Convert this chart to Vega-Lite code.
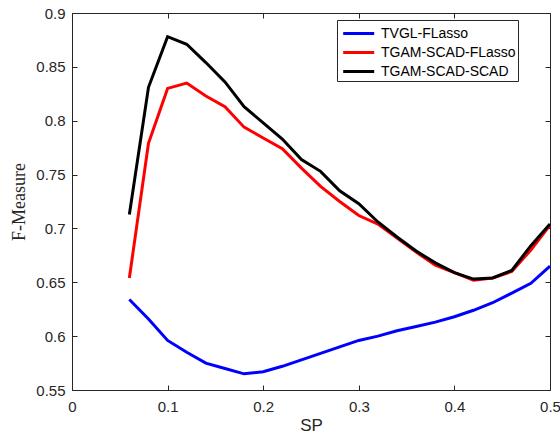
{
  "$schema": "https://vega.github.io/schema/vega-lite/v6.json",
  "width": 478,
  "height": 377,
  "autosize": "none",
  "padding": {"left": 72, "top": 13, "right": 10, "bottom": 49},
  "background": "white",
  "config": {
    "view": {"stroke": "#262626", "strokeWidth": 1},
    "axis": {"grid": false, "labelFlush": false, "labelFont": "Liberation Sans", "labelFontSize": 15, "labelColor": "#262626", "domainColor": "#262626", "tickColor": "#262626", "titleColor": "#262626", "titleFontWeight": "normal"}
  },
  "data": {"values": [
    {"sp":0.06,"f":0.634,"s":"TVGL-FLasso"},{"sp":0.08,"f":0.616,"s":"TVGL-FLasso"},{"sp":0.10,"f":0.596,"s":"TVGL-FLasso"},{"sp":0.12,"f":0.585,"s":"TVGL-FLasso"},{"sp":0.14,"f":0.575,"s":"TVGL-FLasso"},{"sp":0.16,"f":0.570,"s":"TVGL-FLasso"},{"sp":0.18,"f":0.565,"s":"TVGL-FLasso"},{"sp":0.20,"f":0.567,"s":"TVGL-FLasso"},{"sp":0.22,"f":0.572,"s":"TVGL-FLasso"},{"sp":0.24,"f":0.578,"s":"TVGL-FLasso"},{"sp":0.26,"f":0.584,"s":"TVGL-FLasso"},{"sp":0.28,"f":0.590,"s":"TVGL-FLasso"},{"sp":0.30,"f":0.596,"s":"TVGL-FLasso"},{"sp":0.32,"f":0.600,"s":"TVGL-FLasso"},{"sp":0.34,"f":0.605,"s":"TVGL-FLasso"},{"sp":0.36,"f":0.609,"s":"TVGL-FLasso"},{"sp":0.38,"f":0.613,"s":"TVGL-FLasso"},{"sp":0.40,"f":0.618,"s":"TVGL-FLasso"},{"sp":0.42,"f":0.624,"s":"TVGL-FLasso"},{"sp":0.44,"f":0.631,"s":"TVGL-FLasso"},{"sp":0.46,"f":0.640,"s":"TVGL-FLasso"},{"sp":0.48,"f":0.649,"s":"TVGL-FLasso"},{"sp":0.50,"f":0.665,"s":"TVGL-FLasso"},
    {"sp":0.06,"f":0.654,"s":"TGAM-SCAD-FLasso"},{"sp":0.08,"f":0.779,"s":"TGAM-SCAD-FLasso"},{"sp":0.10,"f":0.830,"s":"TGAM-SCAD-FLasso"},{"sp":0.12,"f":0.835,"s":"TGAM-SCAD-FLasso"},{"sp":0.14,"f":0.823,"s":"TGAM-SCAD-FLasso"},{"sp":0.16,"f":0.813,"s":"TGAM-SCAD-FLasso"},{"sp":0.18,"f":0.794,"s":"TGAM-SCAD-FLasso"},{"sp":0.20,"f":0.784,"s":"TGAM-SCAD-FLasso"},{"sp":0.22,"f":0.774,"s":"TGAM-SCAD-FLasso"},{"sp":0.24,"f":0.756,"s":"TGAM-SCAD-FLasso"},{"sp":0.26,"f":0.739,"s":"TGAM-SCAD-FLasso"},{"sp":0.28,"f":0.725,"s":"TGAM-SCAD-FLasso"},{"sp":0.30,"f":0.712,"s":"TGAM-SCAD-FLasso"},{"sp":0.32,"f":0.704,"s":"TGAM-SCAD-FLasso"},{"sp":0.34,"f":0.691,"s":"TGAM-SCAD-FLasso"},{"sp":0.36,"f":0.678,"s":"TGAM-SCAD-FLasso"},{"sp":0.38,"f":0.666,"s":"TGAM-SCAD-FLasso"},{"sp":0.40,"f":0.659,"s":"TGAM-SCAD-FLasso"},{"sp":0.42,"f":0.652,"s":"TGAM-SCAD-FLasso"},{"sp":0.44,"f":0.654,"s":"TGAM-SCAD-FLasso"},{"sp":0.46,"f":0.660,"s":"TGAM-SCAD-FLasso"},{"sp":0.48,"f":0.680,"s":"TGAM-SCAD-FLasso"},{"sp":0.50,"f":0.703,"s":"TGAM-SCAD-FLasso"},
    {"sp":0.06,"f":0.713,"s":"TGAM-SCAD-SCAD"},{"sp":0.08,"f":0.831,"s":"TGAM-SCAD-SCAD"},{"sp":0.10,"f":0.878,"s":"TGAM-SCAD-SCAD"},{"sp":0.12,"f":0.871,"s":"TGAM-SCAD-SCAD"},{"sp":0.14,"f":0.854,"s":"TGAM-SCAD-SCAD"},{"sp":0.16,"f":0.836,"s":"TGAM-SCAD-SCAD"},{"sp":0.18,"f":0.813,"s":"TGAM-SCAD-SCAD"},{"sp":0.20,"f":0.798,"s":"TGAM-SCAD-SCAD"},{"sp":0.22,"f":0.783,"s":"TGAM-SCAD-SCAD"},{"sp":0.24,"f":0.764,"s":"TGAM-SCAD-SCAD"},{"sp":0.26,"f":0.753,"s":"TGAM-SCAD-SCAD"},{"sp":0.28,"f":0.735,"s":"TGAM-SCAD-SCAD"},{"sp":0.30,"f":0.723,"s":"TGAM-SCAD-SCAD"},{"sp":0.32,"f":0.706,"s":"TGAM-SCAD-SCAD"},{"sp":0.34,"f":0.692,"s":"TGAM-SCAD-SCAD"},{"sp":0.36,"f":0.679,"s":"TGAM-SCAD-SCAD"},{"sp":0.38,"f":0.668,"s":"TGAM-SCAD-SCAD"},{"sp":0.40,"f":0.659,"s":"TGAM-SCAD-SCAD"},{"sp":0.42,"f":0.653,"s":"TGAM-SCAD-SCAD"},{"sp":0.44,"f":0.654,"s":"TGAM-SCAD-SCAD"},{"sp":0.46,"f":0.661,"s":"TGAM-SCAD-SCAD"},{"sp":0.48,"f":0.684,"s":"TGAM-SCAD-SCAD"},{"sp":0.50,"f":0.704,"s":"TGAM-SCAD-SCAD"}
  ]},
  "layer": [
    {
      "mark": {"type": "line", "strokeWidth": 3},
      "encoding": {
        "x": {"field": "sp", "type": "quantitative", "scale": {"domain": [0, 0.5], "nice": false},
              "axis": {"orient": "bottom", "values": [0, 0.1, 0.2, 0.3, 0.4, 0.5], "format": "~g", "tickSize": -5, "labelPadding": 14, "domain": false, "title": "SP", "titleFont": "Liberation Sans", "titleFontSize": 17, "titlePadding": 3}},
        "y": {"field": "f", "type": "quantitative", "scale": {"domain": [0.55, 0.9], "nice": false, "zero": false},
              "axis": {"orient": "left", "values": [0.55, 0.6, 0.65, 0.7, 0.75, 0.8, 0.85, 0.9], "format": "~g", "tickSize": -5, "labelPadding": 12, "domain": false, "title": "F-Measure", "titleFont": "Liberation Serif", "titleFontSize": 18, "titlePadding": 7}},
        "color": {"field": "s", "type": "nominal", "sort": null,
                  "scale": {"domain": ["TVGL-FLasso", "TGAM-SCAD-FLasso", "TGAM-SCAD-SCAD"], "range": ["#0000ff", "#ff0000", "#000000"]},
                  "legend": {"title": null, "orient": "none", "legendX": 265, "legendY": 7, "symbolType": "M-0.73,0H2.37", "symbolSize": 400, "symbolStrokeWidth": 3, "labelFont": "Liberation Sans", "labelFontSize": 14, "labelColor": "#000000", "fillColor": "white", "strokeColor": "#262626", "padding": 2, "rowPadding": -1.5, "labelOffset": 19, "labelExpr": "datum.label + ' '"}}
      }
    },
    {
      "mark": {"type": "line", "opacity": 0},
      "encoding": {
        "x": {"field": "sp", "type": "quantitative", "axis": {"orient": "top", "values": [0, 0.1, 0.2, 0.3, 0.4, 0.5], "labels": false, "tickSize": -5, "domain": false, "title": null}},
        "y": {"field": "f", "type": "quantitative", "axis": {"orient": "right", "values": [0.55, 0.6, 0.65, 0.7, 0.75, 0.8, 0.85, 0.9], "labels": false, "tickSize": -5, "domain": false, "title": null}},
        "detail": {"field": "s"}
      }
    }
  ],
  "resolve": {"axis": {"x": "independent", "y": "independent"}}
}
